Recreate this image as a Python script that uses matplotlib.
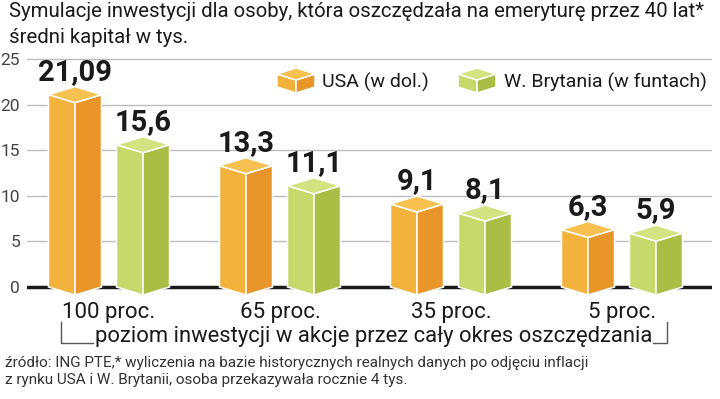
import matplotlib
matplotlib.use('Agg')
import matplotlib.pyplot as plt
from matplotlib.patches import Polygon
from matplotlib.transforms import Affine2D

# dane z wykresu
categories = ['100 proc.', '65 proc.', '35 proc.', '5 proc.']
usa = [21.09, 13.3, 9.1, 6.3]
uk = [15.6, 11.1, 8.1, 5.9]
series_names = ['USA (w dol.)', 'W. Brytania (w funtach)']
yticks = [0, 5, 10, 15, 20, 25]

title = ('Symulacje inwestycji dla osoby, która oszczędzała na emeryturę przez 40 lat*\n'
         'średni kapitał w tys.')
axis_note = 'poziom inwestycji w akcje przez cały okres oszczędzania'
footer = ('źródło: ING PTE,* wyliczenia na bazie historycznych realnych danych po odjęciu inflacji\n'
          'z rynku USA i W. Brytanii, osoba przekazywała rocznie 4 tys.')

# kolory: (przód, bok, góra)
orange = ('#F3B23C', '#E8952A', '#F6C150')
green = ('#C7D96B', '#AABE46', '#D4E382')

plt.rcParams['font.family'] = ['Roboto', 'DejaVu Sans']

W, H = 720, 399
fig = plt.figure(figsize=(W / 100, H / 100), dpi=100)

# geometria osi w pikselach
ppu = 9.12            # piksele na jednostkę
y0px = 287            # położenie zera
ylim = (-1.5, 25.5)
ax_l, ax_r = 27, 712
ax_top = y0px - ylim[1] * ppu
ax_bot = y0px - ylim[0] * ppu
ax = fig.add_axes([ax_l / W, 1 - ax_bot / H, (ax_r - ax_l) / W, (ax_bot - ax_top) / H])

gx0, gstep = 109, 171  # środek pierwszej grupy i odstęp (px)
ax.set_xlim((ax_l - gx0) / gstep, (ax_r - gx0) / gstep)
ax.set_ylim(*ylim)

hw = 26.5 / gstep      # połowa szerokości słupka
off = 34 / gstep       # przesunięcie słupka od środka grupy
depth = 8 / ppu        # "głębokość" górnej ściany


def box(add, xc, base, top, hw, d, cols, transform=None, z=3):
    left = [(xc - hw, base), (xc, base - d), (xc, top - d), (xc - hw, top)]
    right = [(xc, base - d), (xc + hw, base), (xc + hw, top), (xc, top - d)]
    lid = [(xc - hw, top), (xc, top - d), (xc + hw, top), (xc, top + d)]
    for pts, c in zip([left, right, lid], cols):
        kw = dict(facecolor=c, edgecolor='white', linewidth=1.1, zorder=z)
        if transform is not None:
            kw['transform'] = transform
        add(Polygon(pts, closed=True, **kw))


for i in range(len(categories)):
    for v, sign, cols in [(usa[i], -1, orange), (uk[i], 1, green)]:
        xc = i + sign * off
        box(ax.add_patch, xc, 0, v, hw, depth, cols)
        ax.text(xc, v + depth + 0.1, str(v).replace('.', ','), ha='center', va='bottom',
                fontsize=21, fontweight='bold', color='#1a1a1a', zorder=5)

ax.axhline(0, color='#1a1a1a', lw=2.5, zorder=2)
ax.set_yticks(yticks)
ax.yaxis.grid(True, color='#BDBDBD', lw=1.0)
ax.set_axisbelow(True)
ax.set_xticks(range(len(categories)))
ax.set_xticklabels(categories, fontsize=16, color='#1a1a1a')
ax.tick_params(axis='x', length=0, pad=1)
ax.tick_params(axis='y', length=0, pad=5, labelsize=12.5, labelcolor='#444444')
for s in ax.spines.values():
    s.set_visible(False)

# tytuł
fig.text(9 / W, 1 - 2 / H, title, ha='left', va='top', fontsize=14.7,
         color='#1a1a1a', linespacing=1.45)

# legenda (pozycje w pikselach, y w górę)
pix = Affine2D().scale(1 / W, 1 / H) + fig.transFigure
legend_x = [(296, 322), (477, 504)]
for (bx, tx), name, cols in zip(legend_x, series_names, [orange, green]):
    box(fig.add_artist, bx, H - 87, H - 74, 19, 6, cols, transform=pix, z=3)
    fig.text(tx / W, 1 - 82 / H, name, ha='left', va='center', fontsize=14,
             color='#1a1a1a')

# klamra pod kategoriami
fig.add_artist(plt.Line2D([61 / W, 61 / W, 93 / W], [1 - 322 / H, 1 - 343 / H, 1 - 343 / H],
                          color='#555555', lw=1))
fig.add_artist(plt.Line2D([653 / W, 667 / W, 667 / W], [1 - 343 / H, 1 - 343 / H, 1 - 322 / H],
                          color='#555555', lw=1))
fig.text(374 / W, 1 - 342 / H, axis_note, ha='center', va='baseline', fontsize=15.8,
         color='#1a1a1a')

# źródło
fig.text(5 / W, 1 - 356 / H, footer, ha='left', va='top', fontsize=11,
         color='#333333', linespacing=1.3)

fig.savefig('out.png', dpi=100)
